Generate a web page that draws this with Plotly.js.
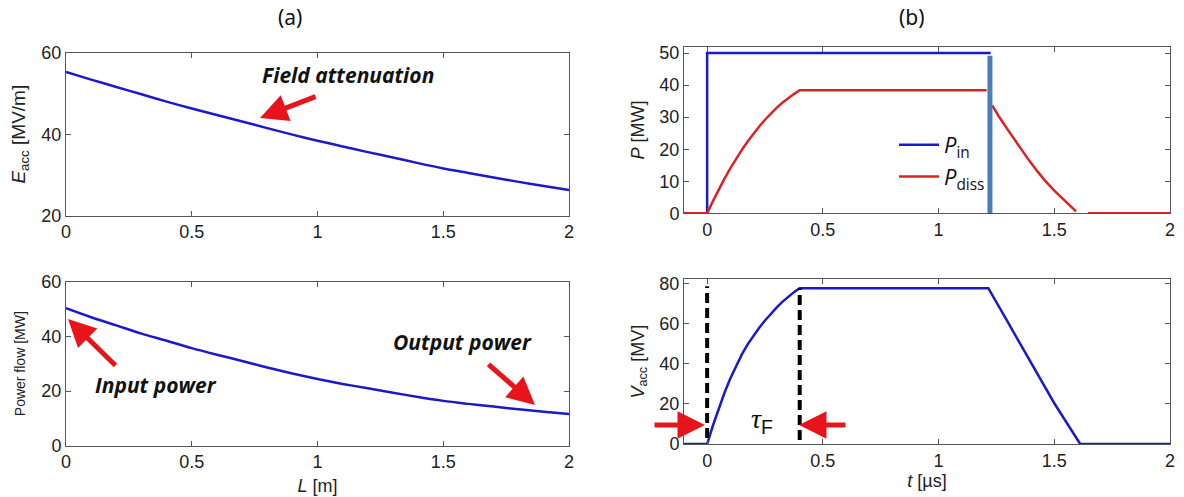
<!DOCTYPE html>
<html>
<head>
<meta charset="utf-8">
<script src="https://cdn.plot.ly/plotly-3.0.1.min.js"></script>
<style>html,body{margin:0;padding:0;background:#fff;}#chart{width:1184px;height:497px;}</style>
</head>
<body>
<div id="chart"></div>
<script>
// ---- Data ----
const L_m = [0,0.1,0.2,0.3,0.4,0.5,0.6,0.7,0.8,0.9,1.0,1.1,1.2,1.3,1.4,1.5,1.6,1.7,1.8,1.9,2.0];
const E_acc = [55.3,53.4,51.6,49.8,48.0,46.3,44.7,43.1,41.5,39.9,38.4,37.0,35.6,34.3,32.9,31.6,30.5,29.4,28.3,27.3,26.3];
const P_flow = [50.3,47.0,44.0,41.0,38.4,35.7,33.3,31.0,28.6,26.4,24.4,22.6,21.0,19.4,17.8,16.4,15.3,14.3,13.3,12.4,11.6];

const t_in = [0, 0, 1.225];
const P_in = [0, 50, 50];
const t_bar = [1.222, 1.222];
const P_bar = [0, 49.2];
const t_diss = [-0.1, 0, 0.025, 0.05, 0.075, 0.1, 0.125, 0.15, 0.175, 0.2, 0.225, 0.25, 0.275, 0.3, 0.325, 0.35, 0.375, 0.4, 1.208,
                null, 1.232, 1.26, 1.298, 1.33, 1.356, 1.39, 1.428, 1.46, 1.5, 1.53, 1.56, 1.594, null, 1.645, 2.0];
const P_diss = [0, 0, 3.8, 7.4, 10.8, 14.0, 17.0, 19.8, 22.4, 24.9, 27.1, 29.2, 31.1, 32.9, 34.5, 35.9, 37.2, 38.4, 38.4,
                null, 33.7, 30.3, 26.2, 22.8, 20.2, 16.6, 13.0, 10.2, 7.1, 5.0, 3.0, 0.6, null, 0, 0];

const t_v = [-0.1, 0, 0.025, 0.05, 0.075, 0.1, 0.125, 0.15, 0.175, 0.2, 0.225, 0.25, 0.275, 0.3, 0.325, 0.35, 0.375, 0.4,
             1.215, 1.30, 1.40, 1.50, 1.612, 2.0];
const V_acc = [0, 0, 9.2, 17.8, 25.5, 32.6, 39.0, 44.6, 49.6, 54.0, 57.9, 61.5, 64.8, 67.9, 70.8, 73.4, 75.6, 77.6,
               77.6, 60.5, 40.5, 20.3, 0, 0];
const t_fill_start = [0, 0];
const V_fill_start = [3, 78.5];
const t_fill_end = [0.4, 0.4];
const V_fill_end = [2, 77.6];

// ---- helpers ----
const W = 1184, H = 497;
const px = x => x / W;
const py = y => 1 - y / H;
const blue = '#1a1ac8';
const red = '#d92222';
const arrowRed = '#e8141c';
const tickFont = {family: 'Liberation Sans, Arial, sans-serif', size: 18, color: '#222'};

function ax(domain, range, extra) {
  return Object.assign({
    domain: domain, range: range, showline: true, mirror: 'ticks', ticks: 'inside',
    ticklen: 5, tickcolor: '#555', linecolor: '#555', linewidth: 1, showgrid: false,
    zeroline: false, tickfont: tickFont, fixedrange: true
  }, extra || {});
}

const traces = [
  {x: L_m, y: E_acc, xaxis: 'x', yaxis: 'y', mode: 'lines', line: {color: blue, width: 2.5, shape: 'spline', smoothing: 0.8}, showlegend: false},
  {x: L_m, y: P_flow, xaxis: 'x2', yaxis: 'y2', mode: 'lines', line: {color: blue, width: 2.5, shape: 'spline', smoothing: 0.8}, showlegend: false},
  {x: t_in, y: P_in, xaxis: 'x3', yaxis: 'y3', mode: 'lines', line: {color: blue, width: 2.5}, name: '<i>P</i><sub>in</sub>', showlegend: true},
  {x: t_diss, y: P_diss, xaxis: 'x3', yaxis: 'y3', mode: 'lines', line: {color: red, width: 2.5}, name: '<i>P</i><sub>diss</sub>', showlegend: true, connectgaps: false},
  {x: t_bar, y: P_bar, xaxis: 'x3', yaxis: 'y3', mode: 'lines', line: {color: '#4a7ebb', width: 5}, showlegend: false},
  {x: t_v, y: V_acc, xaxis: 'x4', yaxis: 'y4', mode: 'lines', line: {color: blue, width: 2.5}, showlegend: false},
  {x: t_fill_start, y: V_fill_start, xaxis: 'x4', yaxis: 'y4', mode: 'lines', line: {color: '#000', width: 4, dash: '10px,5px'}, showlegend: false},
  {x: t_fill_end, y: V_fill_end, xaxis: 'x4', yaxis: 'y4', mode: 'lines', line: {color: '#000', width: 4, dash: '10px,5px'}, showlegend: false}
];

const titleFont = {family: 'Liberation Sans, Arial, sans-serif', size: 18, color: '#222'};
const leftDom = [px(66), px(569)];
const rightDom = [px(684), px(1170)];
const xt = {tickvals: [0, 0.5, 1, 1.5, 2], ticktext: ['0','0.5','1','1.5','2']};

function label(text, x, y, size, family) {
  return {text: text, x: px(x), y: py(y), xref: 'paper', yref: 'paper', xanchor: 'center', yanchor: 'middle',
          showarrow: false, font: {family: family, size: size, color: '#111'}};
}
function arrow(hx, hy, dx, dy) {
  return {text: '', x: px(hx), y: py(hy), xref: 'paper', yref: 'paper', showarrow: true, ax: dx, ay: dy,
          arrowcolor: arrowRed, arrowwidth: 5, arrowhead: 2, arrowsize: 1.1, standoff: 0};
}

const layout = {
  width: W, height: H,
  margin: {l: 0, r: 0, t: 0, b: 0},
  paper_bgcolor: '#fff', plot_bgcolor: '#fff',
  xaxis: ax(leftDom, [0, 2], Object.assign({anchor: 'y'}, xt)),
  yaxis: ax([py(215.7), py(52.7)], [20, 60], {anchor: 'x', tickvals: [20, 40, 60],
    title: {text: '<i>E</i><sub>acc</sub> [MV/m]', font: {family: 'Liberation Sans, Arial, sans-serif', size: 19, color: '#222'}, standoff: 10}}),
  xaxis2: ax(leftDom, [0, 2], Object.assign({anchor: 'y2',
    title: {text: '<i>L</i> [m]', font: titleFont, standoff: 8}}, xt)),
  yaxis2: ax([py(445.7), py(281.7)], [0, 60], {anchor: 'x2', tickvals: [0, 20, 40, 60],
    title: {text: 'Power flow [MW]', font: {family: 'Liberation Sans, Arial, sans-serif', size: 14, color: '#222'}, standoff: 12}}),
  xaxis3: ax(rightDom, [-0.1, 2], Object.assign({anchor: 'y3'}, xt)),
  yaxis3: ax([py(213.3), py(46.7)], [0, 52], {anchor: 'x3', tickvals: [0, 10, 20, 30, 40, 50],
    title: {text: '<i>P</i> [MW]', font: titleFont, standoff: 10}}),
  xaxis4: ax(rightDom, [-0.1, 2], Object.assign({anchor: 'y4',
    title: {text: '<i>t</i> [µs]', font: titleFont, standoff: 2}}, xt)),
  yaxis4: ax([py(444), py(279.3)], [0, 82], {anchor: 'x4', tickvals: [0, 20, 40, 60, 80],
    title: {text: '<i>V</i><sub>acc</sub> [MV]', font: titleFont, standoff: 10}}),
  showlegend: true,
  legend: {x: px(894), y: py(124), xanchor: 'left', yanchor: 'top', bgcolor: 'rgba(0,0,0,0)',
    font: {family: 'Open Sans, sans-serif', size: 22, color: '#111'}, tracegroupgap: 0, itemwidth: 40},
  annotations: [
    label('(a)', 290, 17, 21, 'Noto Sans, sans-serif'),
    label('(b)', 912, 17, 21, 'Noto Sans, sans-serif'),
    label('<b><i>Field attenuation</i></b>', 348, 75, 21, 'Open Sans, sans-serif'),
    label('<b><i>Input power</i></b>', 156, 385, 21, 'Open Sans, sans-serif'),
    label('<b><i>Output power</i></b>', 462, 342, 21, 'Open Sans, sans-serif'),
    label('<i>τ</i><sub><span style="font-family:Liberation Sans">F</span></sub>', 762, 420, 28, 'Liberation Serif, serif'),
    arrow(260, 118, 57, -22),
    arrow(68, 319, 49, 48),
    arrow(535, 405, -48, -42),
    arrow(705, 425, -52, 0),
    arrow(799, 425, 48, 0)
  ]
};

Plotly.newPlot('chart', traces, layout, {displayModeBar: false, staticPlot: true});
</script>
</body>
</html>
